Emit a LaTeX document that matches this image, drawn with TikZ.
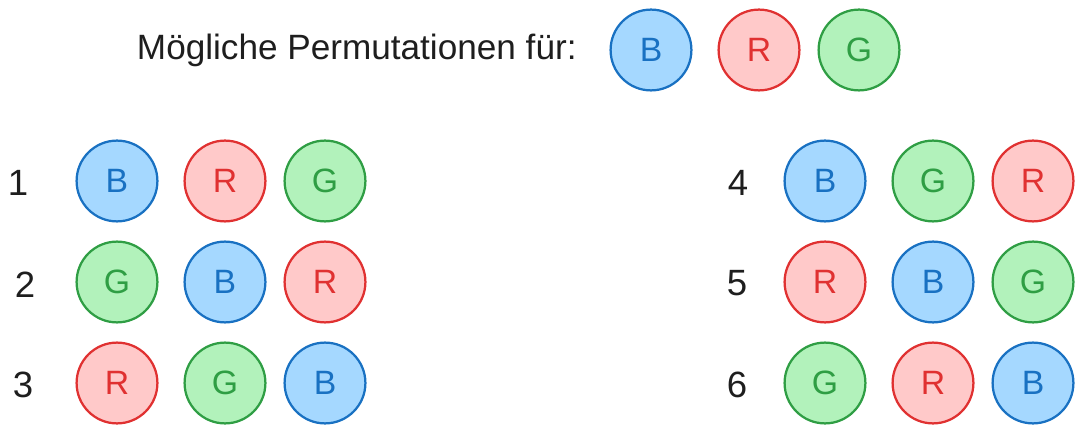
\documentclass[tikz,border=0pt]{standalone}
\usepackage{fontspec}
\setmainfont{Liberation Sans}
\usetikzlibrary{positioning}
\definecolor{bline}{HTML}{1971C2}
\definecolor{bfill}{HTML}{A5D8FF}
\definecolor{rline}{HTML}{E03131}
\definecolor{rfill}{HTML}{FFC9C9}
\definecolor{gline}{HTML}{2F9E44}
\definecolor{gfill}{HTML}{B2F2BB}
\definecolor{ink}{HTML}{1E1E1E}

\begin{document}
\begin{tikzpicture}[x=0.025cm, y=-0.025cm,
  ball/.style={circle, line width=1.6pt, minimum size=2.02cm, inner sep=0pt,
               font=\fontsize{24}{24}\selectfont},
  bball/.style={ball, draw=bline, fill=bfill, text=bline},
  rball/.style={ball, draw=rline, fill=rfill, text=rline},
  gball/.style={ball, draw=gline, fill=gfill, text=gline},
  num/.style={font=\fontsize{26}{26}\selectfont, text=ink}
]
\useasboundingbox (0,0) rectangle (1084,432);

% Kopfzeile
\node[anchor=base west, font=\fontsize{25}{26}\selectfont, text=ink] (title) at (132,60)
  {Mögliche Permutationen für:};
\node[bball] (tb) at (651,50) {B};
\node[rball] (tr) at (759,50) {R};
\node[gball] (tg) at (859,50) {G};

% linke Spalte
\node[num] (n1) at (18,183) {1};
\node[bball] (a1) at (117,181) {B};
\node[rball] (a2) at (225,181) {R};
\node[gball] (a3) at (325,181) {G};

\node[num] (n2) at (25,285) {2};
\node[gball] (b1) at (117,282) {G};
\node[bball] (b2) at (225,282) {B};
\node[rball] (b3) at (325,282) {R};

\node[num] (n3) at (23,385) {3};
\node[rball] (c1) at (117,383) {R};
\node[gball] (c2) at (225,383) {G};
\node[bball] (c3) at (325,383) {B};

% rechte Spalte
\node[num] (n4) at (738,183) {4};
\node[bball] (d1) at (825,181) {B};
\node[gball] (d2) at (933,181) {G};
\node[rball] (d3) at (1033,181) {R};

\node[num] (n5) at (737,283) {5};
\node[rball] (e1) at (825,282) {R};
\node[bball] (e2) at (933,282) {B};
\node[gball] (e3) at (1033,282) {G};

\node[num] (n6) at (737,385) {6};
\node[gball] (f1) at (825,383) {G};
\node[rball] (f2) at (933,383) {R};
\node[bball] (f3) at (1033,383) {B};
\end{tikzpicture}
\end{document}
